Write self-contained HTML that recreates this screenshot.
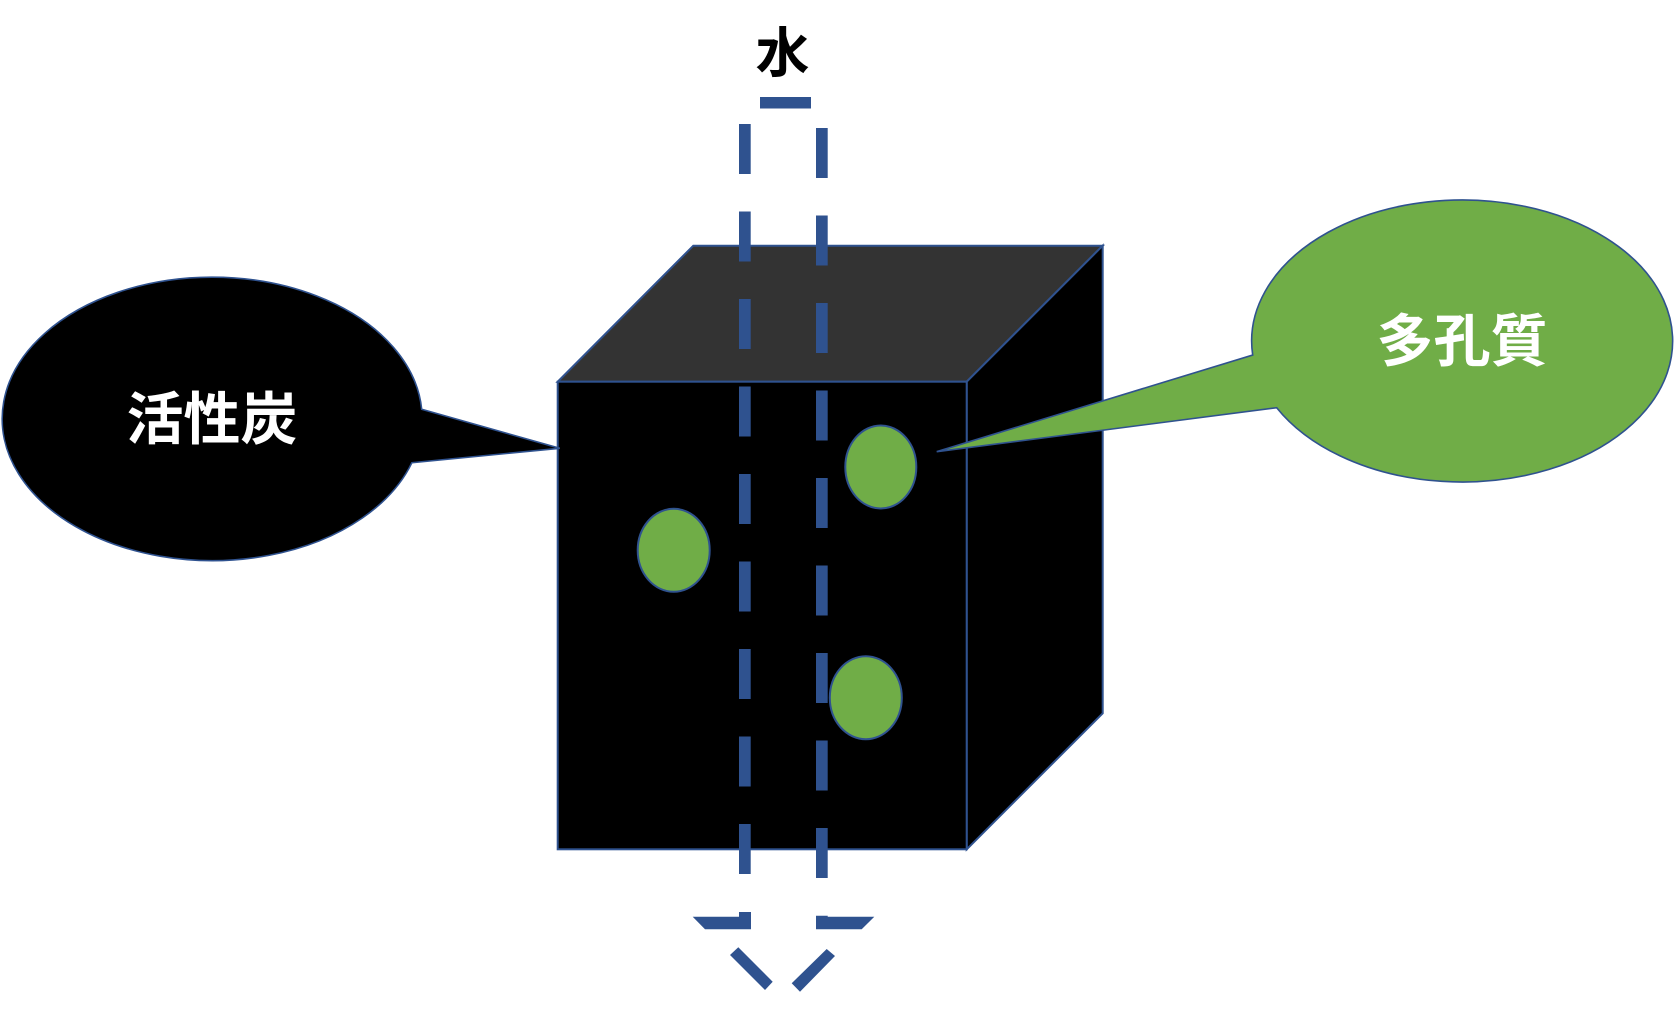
<!DOCTYPE html>
<html>
<head>
<meta charset="utf-8">
<style>
html,body{margin:0;padding:0;background:#fff;}
svg{display:block;}
text{font-family:"Liberation Sans","Noto Sans CJK JP",sans-serif;}
</style>
</head>
<body>
<svg width="1674" height="1010" viewBox="0 0 1674 1010" xmlns="http://www.w3.org/2000/svg">
  <rect width="1674" height="1010" fill="#fff"/>

  <!-- Cube -->
  <polygon points="693.3,245.7 1102.7,245.7 966.7,381.7 557.7,381.7" fill="#333333" stroke="#2F528F" stroke-width="2" stroke-linejoin="miter"/>
  <polygon points="966.7,381.7 1102.7,245.7 1102.7,713.3 966.7,849.3" fill="#000" stroke="#2F528F" stroke-width="2"/>
  <rect x="557.7" y="381.7" width="409" height="467.6" fill="#000" stroke="#2F528F" stroke-width="2"/>

  <!-- Pores -->
  <ellipse cx="673.7" cy="550.3" rx="36" ry="41.5" fill="#70AD47" stroke="#2F528F" stroke-width="2"/>
  <ellipse cx="880.8" cy="467" rx="35.5" ry="41.5" fill="#70AD47" stroke="#2F528F" stroke-width="2"/>
  <ellipse cx="865.8" cy="697.7" rx="36" ry="41.5" fill="#70AD47" stroke="#2F528F" stroke-width="2"/>

  <!-- Dashed arrow (water flow) -->
  <g fill="#2F528F">
    <rect x="760" y="97" width="51" height="11.5"/>
    <!-- left shaft -->
    <rect x="739" y="124" width="11.7" height="50"/>
    <rect x="739" y="211.5" width="11.7" height="50"/>
    <rect x="739" y="299" width="11.7" height="50"/>
    <rect x="739" y="386.5" width="11.7" height="50"/>
    <rect x="739" y="474" width="11.7" height="50"/>
    <rect x="739" y="561.5" width="11.7" height="50"/>
    <rect x="739" y="649" width="11.7" height="50"/>
    <rect x="739" y="736.5" width="11.7" height="50"/>
    <rect x="739" y="824" width="11.7" height="50"/>
    <!-- right shaft -->
    <rect x="816" y="128" width="11.7" height="50"/>
    <rect x="816" y="215.5" width="11.7" height="50"/>
    <rect x="816" y="303" width="11.7" height="50"/>
    <rect x="816" y="390.5" width="11.7" height="50"/>
    <rect x="816" y="478" width="11.7" height="50"/>
    <rect x="816" y="565.5" width="11.7" height="50"/>
    <rect x="816" y="653" width="11.7" height="50"/>
    <rect x="816" y="740.5" width="11.7" height="50"/>
    <rect x="816" y="828" width="11.7" height="50"/>
    <!-- wings -->
    <polygon points="739,912 751,912 751,929.3 705,929.3 692.7,916.7 739,916.7"/>
    <polygon points="816,915.7 827.7,915.7 827.7,916.7 874.3,916.7 861.7,929.3 816,929.3"/>
    <!-- diagonals -->
    <polygon points="730,955 738.3,947.3 772.7,981.7 765,990"/>
    <polygon points="791.7,983.3 800,991.7 835,956 826.7,949"/>
  </g>

  <!-- Water label -->
  <text x="782.5" y="72" font-size="54" font-weight="bold" text-anchor="middle" fill="#000">水</text>

  <!-- Left callout: 活性炭 -->
  <path d="M 411.9,462.7 A 210 141.7 0 1 1 421.7,409.3 L 559.8,448.3 Z" fill="#000" stroke="#2F528F" stroke-width="1.6" stroke-linejoin="miter"/>
  <text x="212" y="439" font-size="57" font-weight="bold" text-anchor="middle" fill="#fff">活性炭</text>

  <!-- Right callout: 多孔質 -->
  <path d="M 1252.7,355 A 210.5 141 0 1 1 1276.7,407.7 L 936.7,451.7 Z" fill="#70AD47" stroke="#2F528F" stroke-width="1.6" stroke-linejoin="miter"/>
  <text x="1462" y="361" font-size="57" font-weight="bold" text-anchor="middle" fill="#fff">多孔質</text>
</svg>
</body>
</html>
